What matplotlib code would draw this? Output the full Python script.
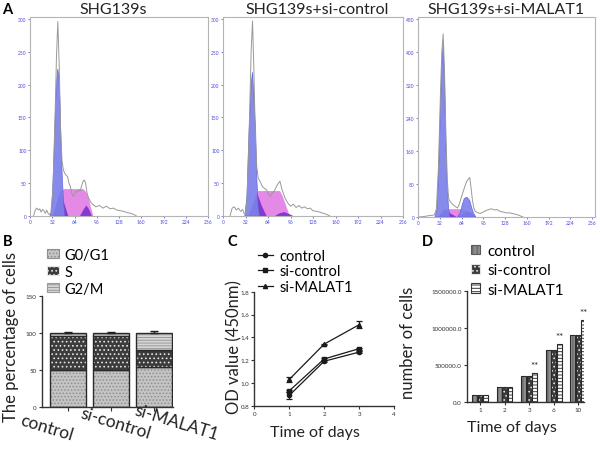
import numpy as np
import matplotlib
matplotlib.use('Agg')
import matplotlib.pyplot as plt
from matplotlib.patches import Patch
from matplotlib.lines import Line2D

plt.rcParams['font.family'] = ['Lato', 'DejaVu Sans']
plt.rcParams['hatch.linewidth'] = 0.7

# ---------------- Panel A data (flow cytometry histograms) ----------------
A_titles = ["SHG139s", "SHG139s+si-control", "SHG139s+si-MALAT1"]
A_xticks = [0, 32, 64, 96, 128, 160, 192, 224, 256]
A1_yticks = [0, 50, 100, 150, 200, 250, 300]
A2_yticks = [0, 50, 100, 150, 200, 250, 300]
A3_yticks = [0, 80, 160, 240, 320, 400, 480]

A1_gray_ch = [5, 8, 10, 12, 14, 16, 18, 20, 22, 24, 26, 28, 30,
              33, 36, 38, 40, 42, 44, 46, 48, 50,
              52, 54, 56, 58, 60, 62, 64, 66, 68, 70, 72, 74, 76, 78, 80, 82, 84, 86, 88, 90,
              95, 100, 105, 110, 115, 120, 125, 130, 135, 140, 145, 150, 153]
A1_gray_ct = [0, 10, 12, 9, 11, 6, 10, 8, 4, 9, 4, 2, 5,
              40, 150, 240, 296, 230, 130, 85, 70, 65,
              62, 60, 50, 45, 35, 30, 32, 38, 36, 40, 38, 45, 52, 55, 50, 35, 28, 24, 20, 18,
              14, 16, 12, 15, 11, 12, 9, 8, 7, 5, 4, 2, 0]
A1_g1_ch = [29, 31, 33, 35, 37, 39, 40, 41, 43, 45, 46, 48, 50]
A1_g1_ct = [0, 8, 50, 110, 178, 215, 224, 215, 178, 100, 70, 26, 0]
A1_s_ch = [33, 36, 40, 44, 50, 77, 81, 85, 88, 91]
A1_s_ct = [0, 10, 25, 38, 41, 41, 36, 25, 12, 0]
A1_ov_ch = [33, 44, 49, 55]
A1_ov_ct = [0, 38, 20, 0]
A1_g2_ch = [72, 76, 81, 85, 89]
A1_g2_ct = [0, 8, 16, 10, 0]

A2_gray_ch = [10, 13, 16, 19, 22, 25, 28, 30, 32,
              34, 37, 40, 42, 44, 46, 48, 50,
              53, 56, 59, 62, 65, 67, 70, 73, 76, 79, 81, 84, 88, 92, 96, 100, 104, 108, 112, 116, 120, 124, 128,
              134, 140, 146, 152]
A2_gray_ct = [0, 12, 14, 9, 12, 7, 10, 4, 3,
              20, 120, 250, 297, 220, 120, 75, 58,
              52, 45, 42, 40, 32, 30, 35, 38, 45, 50, 53, 40, 28, 20, 15, 18, 13, 16, 12, 14, 11, 12, 8,
              7, 5, 3, 0]
A2_g1_ch = [31, 34, 37, 40, 42, 44, 46.5, 48, 50, 52]
A2_g1_ct = [0, 30, 128, 200, 219, 180, 128, 60, 15, 0]
A2_s_ch = [36, 40, 45, 50, 81, 85, 90, 95]
A2_s_ct = [0, 12, 28, 38, 38, 30, 15, 0]
A2_ov_ch = [37, 49, 55, 62]
A2_ov_ct = [0, 34, 16, 0]
A2_g2_ch = [74, 80, 87, 94, 100]
A2_g2_ct = [0, 4, 6, 3, 0]

A3_gray_ch = [0, 8, 15, 20, 24, 27,
              30, 33, 35, 37, 39, 41, 43, 45, 47,
              50, 53, 56, 58, 60, 62, 64, 66, 68, 70, 72, 74, 76, 78, 80, 82, 84,
              88, 92, 96, 100, 104, 108, 112, 116, 120,
              125, 130, 135, 140, 145, 150, 154]
A3_gray_ct = [0, 1, 3, 4, 5, 20,
              120, 300, 400, 444, 350, 200, 90, 45, 38,
              32, 28, 24, 22, 28, 38, 50, 60, 70, 80, 88, 92, 96, 70, 40, 22, 14,
              10, 9, 12, 16, 18, 20, 17, 18, 14,
              12, 10, 10, 8, 6, 3, 0]
A3_g1_ch = [25, 28, 31, 33, 35, 37, 39, 41, 43, 45, 47]
A3_g1_ct = [0, 20, 150, 270, 370, 423, 330, 180, 70, 20, 0]
A3_g2b_ch = [58, 62, 65, 68, 72, 76, 79, 82, 85]
A3_g2b_ct = [0, 10, 30, 45, 48, 40, 22, 8, 0]
A3_s_ch = [30, 36, 40, 66, 72, 78, 84]
A3_s_ct = [0, 15, 19, 19, 14, 6, 0]
A3_ov_ch = [30, 39, 48, 57]
A3_ov_ct = [0, 18, 8, 0]
A3_g2_ch = [60, 68, 74, 80, 85]
A3_g2_ct = [0, 10, 14, 8, 0]

# ---------------- Panel B data ----------------
B_groups = ["control", "si-control", "si-MALAT1"]
B_phases = ["G0/G1", "S", "G2/M"]
B_g0g1 = [50, 50, 53]
B_s = [46, 46, 24]
B_g2m = [4, 4, 23]
B_err = [1.0, 1.5, 2.0]
B_yticks = [0, 50, 100, 150]

# ---------------- Panel C data ----------------
C_series = ["control", "si-control", "si-MALAT1"]
C_days = [1, 2, 3]
C_control = [0.89, 1.19, 1.27]
C_sicontrol = [0.93, 1.21, 1.30]
C_simalat1 = [1.03, 1.34, 1.51]
C_err_control = [0.03, 0.01, 0.01]
C_err_sicontrol = [0.01, 0.01, 0.01]
C_err_simalat1 = [0.02, 0.005, 0.03]
C_xticks = [0, 1, 2, 3, 4]
C_yticks = [0.8, 1.0, 1.2, 1.4, 1.6, 1.8]

# ---------------- Panel D data ----------------
D_days = ["1", "2", "3", "6", "10"]
D_control = [100000, 200000, 355000, 705000, 905000]
D_sicontrol = [100000, 200000, 358000, 705000, 908000]
D_simalat1 = [100000, 200000, 400000, 790000, 1110000]
D_sig = ["", "", "**", "**", "**"]
D_yticks = [0, 500000, 1000000, 1500000]

W, H = 600, 452
fig = plt.figure(figsize=(6, 4.52), dpi=100)


def px_axes(l, t, r, b):
    return fig.add_axes([l / W, 1 - b / H, (r - l) / W, (b - t) / H])


def fx(x):
    return x / W


def fy(y):
    return 1 - y / H


BLUE_T = '#4a4ae0'
C_BLUE = '#7c80ea'
C_PINK = '#e48ae6'
C_PURP = '#8438d4'
C_GRAY = '#999999'

A_specs = [
    ((30, 18, 208, 217), (0, 256), (0, 303), A1_yticks,
     (A1_gray_ch, A1_gray_ct), (A1_g1_ch, A1_g1_ct), (A1_s_ch, A1_s_ct),
     (A1_ov_ch, A1_ov_ct), (A1_g2_ch, A1_g2_ct), None),
    ((223, 18, 403, 217), (0, 256), (0, 303), A2_yticks,
     (A2_gray_ch, A2_gray_ct), (A2_g1_ch, A2_g1_ct), (A2_s_ch, A2_s_ct),
     (A2_ov_ch, A2_ov_ct), (A2_g2_ch, A2_g2_ct), None),
    ((418, 18, 595, 218), (0, 260), (0, 485), A3_yticks,
     (A3_gray_ch, A3_gray_ct), (A3_g1_ch, A3_g1_ct), (A3_s_ch, A3_s_ct),
     (A3_ov_ch, A3_ov_ct), (A3_g2_ch, A3_g2_ct), (A3_g2b_ch, A3_g2b_ct)),
]
A_title_x = [113, 317, 506]

for i, (rect, xl, yl, yt, gray, g1, s, ov, g2, g2b) in enumerate(A_specs):
    ax = px_axes(*rect)
    ax.fill(s[0], s[1], color=C_PINK, lw=0)
    ax.fill(ov[0], ov[1], color=C_PURP, lw=0)
    ax.fill(g2[0], g2[1], color=C_PURP, lw=0)
    ax.fill(g1[0], g1[1], facecolor=C_BLUE, edgecolor='#5f62d8', lw=0.5, alpha=0.92)
    if g2b is not None:
        ax.fill(g2b[0], g2b[1], facecolor=C_BLUE, edgecolor='#5f62d8', lw=0.5, alpha=0.9)
    ax.plot(gray[0], gray[1], color=C_GRAY, lw=0.7)
    ax.set_xlim(*xl)
    ax.set_ylim(*yl)
    ax.set_xticks(A_xticks)
    ax.set_yticks(yt)
    ax.tick_params(labelsize=3.5, colors=BLUE_T, length=1.5, width=0.5, pad=1)
    for sp in ax.spines.values():
        sp.set_color('#b4b4b4')
        sp.set_linewidth(0.8)
    fig.text(fx(A_title_x[i]), fy(10), A_titles[i], ha='center', va='center',
             fontsize=11.5, color='#222222')

fig.text(fx(2), fy(10), "A", ha='left', va='center', fontsize=10.5, fontweight='bold')

# ---------------- Panel B ----------------
BL, BT, BR, BB = 41.7, 296.7, 173, 407.7
BX0, BX1 = -0.62, 2.45
axB = px_axes(BL, BT, BR, BB)
xb = np.arange(len(B_groups))
wb = 0.85
b_styles = [
    dict(face='#c4c4c4', hatch='.....', hc='#8f8f8f'),
    dict(face='#3c3c3c', hatch='....', hc='#e6e6e6'),
    dict(face='#d6d6d6', hatch='------', hc='#9a9a9a'),
]
bottoms = np.zeros(len(B_groups))
for vals, st in zip([B_g0g1, B_s, B_g2m], b_styles):
    axB.bar(xb, vals, wb, bottom=bottoms, color=st['face'], edgecolor=st['hc'],
            hatch=st['hatch'], linewidth=0)
    axB.bar(xb, vals, wb, bottom=bottoms, color='none', edgecolor='#2a2a2a', linewidth=1.0)
    bottoms = bottoms + np.array(vals)
axB.errorbar(xb, bottoms, yerr=[np.zeros(3), B_err], fmt='none', ecolor='#222',
             elinewidth=1.0, capsize=3, capthick=1.0)
axB.set_xlim(BX0, BX1)
axB.set_ylim(0, 150)
axB.set_yticks(B_yticks)
axB.set_xticks(xb)
axB.set_xticklabels([])
# category labels, slanted, placed under each bar
b_label_px = [(47, 428), (116, 424), (176, 423)]
ppu = (BR - BL) / (BX1 - BX0)
for name, (lx, ly) in zip(B_groups, b_label_px):
    axB.text((lx - BL) / ppu + BX0, (BB - ly) / (BB - BT), name,
             transform=axB.get_xaxis_transform(), ha='center', va='center',
             rotation=-17, rotation_mode='anchor', fontsize=12.5, color='#222', clip_on=False)
axB.tick_params(axis='y', labelsize=4.5, length=2.5, width=0.8, pad=1, colors='#333')
axB.tick_params(axis='x', length=3, width=0.8, pad=1, colors='#333')
for sp in ['top', 'right']:
    axB.spines[sp].set_visible(False)
for sp in ['left', 'bottom']:
    axB.spines[sp].set_linewidth(1.0)
    axB.spines[sp].set_color('#333')
axB.set_ylabel("The percentage of cells", fontsize=12, color='#222')
axB.yaxis.set_label_coords((19 - BL) / (BR - BL), (BB - 337) / (BB - BT))
b_handles = [Patch(facecolor=st['face'], edgecolor=st['hc'], hatch=st['hatch'], linewidth=0.8)
             for st in b_styles]
legB = fig.legend(b_handles, B_phases, loc='upper left', bbox_to_anchor=(fx(47), fy(249)),
                  frameon=False, fontsize=10.5, handlelength=0.8, handleheight=0.55,
                  handletextpad=0.4, labelspacing=0.2, borderpad=0, borderaxespad=0)
fig.text(fx(3), fy(242), "B", ha='left', va='center', fontsize=10.5, fontweight='bold')

# ---------------- Panel C ----------------
CL, CT, CR, CB = 254.3, 292.7, 394, 406.7
axC = px_axes(CL, CT, CR, CB)
c_markers = ['o', 's', '^']
for vals, err, m in zip([C_control, C_sicontrol, C_simalat1],
                        [C_err_control, C_err_sicontrol, C_err_simalat1], c_markers):
    axC.errorbar(C_days, vals, yerr=err, color='#1a1a1a', marker=m, markersize=3,
                 lw=0.9, elinewidth=0.9, capsize=2, capthick=0.9)
axC.set_xlim(0, 4)
axC.set_ylim(0.8, 1.8)
axC.set_xticks(C_xticks)
axC.set_yticks(C_yticks)
axC.set_xticklabels([str(v) for v in C_xticks])
axC.set_yticklabels([f"{v:.1f}" for v in C_yticks])
axC.tick_params(labelsize=4.5, length=2.5, width=0.8, pad=1, colors='#333')
for sp in ['top', 'right']:
    axC.spines[sp].set_visible(False)
for sp in ['left', 'bottom']:
    axC.spines[sp].set_linewidth(1.0)
    axC.spines[sp].set_color('#333')
axC.set_ylabel("OD value (450nm)", fontsize=12, color='#222')
axC.yaxis.set_label_coords((242 - CL) / (CR - CL), (CB - 347) / (CB - CT))
axC.set_xlabel("Time of days", fontsize=11.5, color='#222')
axC.xaxis.set_label_coords((315 - CL) / (CR - CL), -(426 - CB) / (CB - CT))
c_handles = [Line2D([0], [0], color='#1a1a1a', marker=m, markersize=3, lw=0.9) for m in c_markers]
fig.legend(c_handles, C_series, loc='upper left', bbox_to_anchor=(fx(258), fy(250)),
           frameon=False, fontsize=10.5, handlelength=1.0, handletextpad=0.5,
           labelspacing=0.1, borderpad=0, borderaxespad=0)
fig.text(fx(227), fy(242), "C", ha='left', va='center', fontsize=10.5, fontweight='bold')

# ---------------- Panel D ----------------
DL, DT, DR, DB = 466.7, 291.7, 584, 403.3
axD = px_axes(DL, DT, DR, DB)
xd = np.arange(len(D_days))
wd = 0.2
d_styles = [
    dict(face='#8e8e8e', hatch='||||', hc='#5a5a5a'),
    dict(face='#3c3c3c', hatch='....', hc='#e6e6e6'),
    dict(face='#ffffff', hatch='-----', hc='#3a3a3a'),
]
for k, (vals, st) in enumerate(zip([D_control, D_sicontrol, D_simalat1], d_styles)):
    pos = xd + (k - 1) * 0.22
    axD.bar(pos, vals, wd, color=st['face'], edgecolor=st['hc'], hatch=st['hatch'], linewidth=0)
    axD.bar(pos, vals, wd, color='none', edgecolor='#2a2a2a', linewidth=0.8)
for x, v, s in zip(xd + 0.22, D_simalat1, D_sig):
    if s:
        axD.text(x, v + 40000, s, ha='center', va='bottom', fontsize=7, color='#222')
axD.set_xlim(-0.54, 4.23)
axD.set_ylim(0, 1500000)
axD.set_xticks(xd)
axD.set_xticklabels(D_days)
axD.set_yticks(D_yticks)
axD.set_yticklabels([f"{v:.1f}" for v in D_yticks])
axD.tick_params(labelsize=4.5, length=2.5, width=0.8, pad=1, colors='#333')
for sp in ['top', 'right']:
    axD.spines[sp].set_visible(False)
for sp in ['left', 'bottom']:
    axD.spines[sp].set_linewidth(1.0)
    axD.spines[sp].set_color('#333')
axD.set_ylabel("number of cells", fontsize=12, color='#222')
axD.yaxis.set_label_coords((416 - DL) / (DR - DL), (DB - 343) / (DB - DT))
axD.set_xlabel("Time of days", fontsize=11.5, color='#222')
axD.xaxis.set_label_coords((512 - DL) / (DR - DL), -(421 - DB) / (DB - DT))
d_handles = [Patch(facecolor=st['face'], edgecolor=st['hc'], hatch=st['hatch'], linewidth=0.8)
             for st in d_styles]
fig.legend(d_handles, C_series, loc='upper left', bbox_to_anchor=(fx(471), fy(245)),
           frameon=False, fontsize=11, handlelength=0.6, handleheight=0.6,
           handletextpad=0.5, labelspacing=0.35, borderpad=0, borderaxespad=0)
fig.text(fx(422), fy(242), "D", ha='left', va='center', fontsize=10.5, fontweight='bold')

fig.savefig("out.png", dpi=100)
